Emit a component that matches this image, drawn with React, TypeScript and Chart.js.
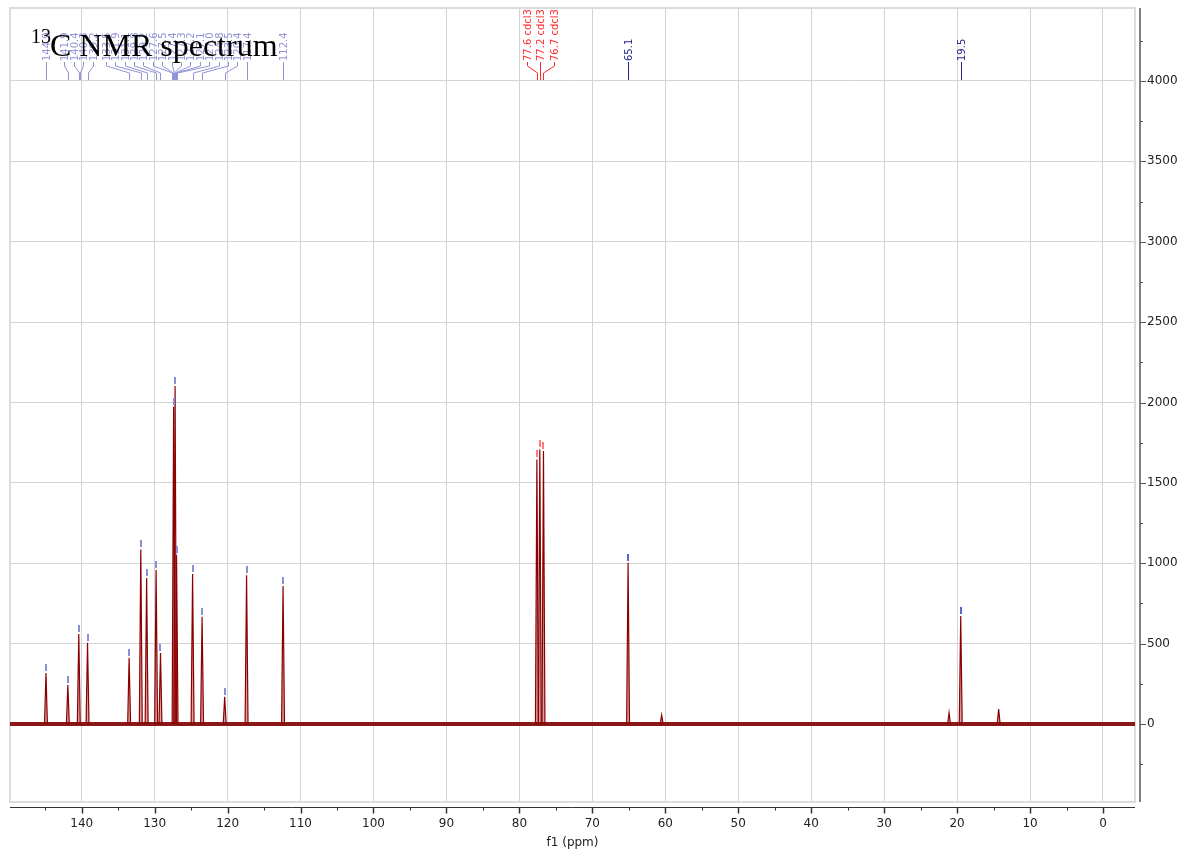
import React, { useEffect, useRef } from "react";
import { Chart, registerables } from "chart.js";

Chart.register(...registerables);

// ---- data ----
const aromaticPpm = [144.9, 141.9, 140.4, 139.2, 133.5, 131.9, 131.1, 129.8, 129.2, 127.4, 127.2, 127.0, 124.8, 123.5, 120.4, 117.4, 112.4];
const aromaticHeight = [317, 243, 560, 506, 412, 1086, 908, 958, 441, 1974, 2103, 1050, 933, 667, 170, 926, 858];
const solventPpm = [77.6, 77.2, 76.7];
const solventHeight = [1646, 1708, 1699];
const aliphaticPpm = [65.1, 19.5];
const aliphaticHeight = [1003, 672];
const impurityPpm = [60.5, 21.1, 14.3];
const impurityHeight = [56, 70, 93];
const blueLabelPpm = [144.9, 141.9, 140.4, 140.3, 139.2, 133.5, 131.9, 131.1, 129.8, 129.2, 127.6, 127.5, 127.4, 127.3, 127.2, 127.1, 127.0, 124.8, 123.5, 120.4, 117.4, 112.4];
const solventName = "cdcl3";
const xTickValues = [140, 130, 120, 110, 100, 90, 80, 70, 60, 50, 40, 30, 20, 10, 0];
const yTickValues = [0, 500, 1000, 1500, 2000, 2500, 3000, 3500, 4000];
const X_MIN = -4.39;
const X_MAX = 149.83;
const Y_MIN = -485;
const Y_MAX = 4454;

const HALF_WIDTH = 0.2;
const PEAK_LINE = "#8b0000";
const PEAK_FILL = "rgba(175,45,45,0.45)";
const GRID = "#d3d3d3";
const AXIS_FONT = '"DejaVu Sans", "Liberation Sans", sans-serif';

function peakDataset(p: number, h: number) {
  return {
    type: "line" as const,
    data: [
      { x: p + HALF_WIDTH, y: 0 },
      { x: p, y: h },
      { x: p - HALF_WIDTH, y: 0 },
    ],
    borderColor: PEAK_LINE,
    borderWidth: 1.2,
    backgroundColor: PEAK_FILL,
    fill: "origin",
    pointRadius: 0,
    tension: 0,
  };
}

function spread(targets: number[], gap: number): number[] {
  const order = targets.map((t, i) => i).sort((a, b) => targets[a] - targets[b]);
  let blocks = order.map((i) => ({ idx: [i], sum: targets[i], n: 1, start: targets[i] }));
  let changed = true;
  while (changed) {
    changed = false;
    for (let i = 0; i < blocks.length - 1; i++) {
      const a = blocks[i];
      const b = blocks[i + 1];
      const aEnd = a.start + (a.n - 1) * gap;
      if (b.start - aEnd < gap) {
        const n = a.n + b.n;
        const sum = a.sum + b.sum;
        const merged = { idx: [...a.idx, ...b.idx], sum, n, start: sum / n - ((n - 1) * gap) / 2 };
        blocks.splice(i, 2, merged);
        changed = true;
        break;
      }
    }
  }
  const out: number[] = new Array(targets.length);
  blocks.forEach((b) => b.idx.forEach((id, k) => (out[id] = b.start + k * gap)));
  return out;
}

const frameAxesPlugin = {
  id: "frameAxes",
  beforeDatasetsDraw(chart: any) {
    const { ctx, chartArea: a } = chart;
    ctx.save();
    ctx.strokeStyle = "#dcdcdc";
    ctx.lineWidth = 2;
    ctx.strokeRect(a.left, a.top, a.right - a.left, a.bottom - a.top);
    ctx.restore();
  },
  afterDraw(chart: any) {
    const { ctx, chartArea: a, scales } = chart;
    const xs = scales.x;
    const ys = scales.y;
    ctx.save();
    // x axis
    const ay = Math.round(a.bottom + 5) + 0.5;
    ctx.strokeStyle = "#333";
    ctx.lineWidth = 1;
    ctx.beginPath();
    ctx.moveTo(a.left, ay);
    ctx.lineTo(a.right, ay);
    ctx.stroke();
    for (let v = 0; v <= X_MAX; v += 5) {
      const px = Math.round(xs.getPixelForValue(v)) + 0.5;
      const major = v % 10 === 0;
      ctx.lineWidth = major ? 1.5 : 1;
      ctx.beginPath();
      ctx.moveTo(px, ay);
      ctx.lineTo(px, ay + (major ? 6 : 3));
      ctx.stroke();
    }
    // y axis
    const ax = Math.round(a.right + 5);
    ctx.strokeStyle = "#808080";
    ctx.lineWidth = 2;
    ctx.beginPath();
    ctx.moveTo(ax, a.top);
    ctx.lineTo(ax, a.bottom);
    ctx.stroke();
    ctx.lineWidth = 1;
    ctx.strokeStyle = "#555";
    for (let v = -250; v <= Y_MAX; v += 250) {
      const py = Math.round(ys.getPixelForValue(v)) + 0.5;
      const major = v % 500 === 0;
      ctx.beginPath();
      ctx.moveTo(ax, py);
      ctx.lineTo(ax + (major ? 6 : 3), py);
      ctx.stroke();
    }
    ctx.restore();
  },
};

function drawLabelSet(ctx: any, xs: any, ppm: number[], texts: string[], gap: number, color: string) {
  const targets = ppm.map((p) => xs.getPixelForValue(p));
  const pos = spread(targets, gap);
  const textEnd = 62;
  ctx.save();
  ctx.strokeStyle = color;
  ctx.fillStyle = color;
  ctx.lineWidth = 1;
  ctx.font = "10px " + AXIS_FONT;
  for (let i = 0; i < ppm.length; i++) {
    const lx = Math.round(pos[i]) + 0.5;
    const tx = Math.round(targets[i]) + 0.5;
    ctx.beginPath();
    ctx.moveTo(lx, textEnd);
    ctx.lineTo(lx, 66);
    ctx.lineTo(tx, 73);
    ctx.lineTo(tx, 80);
    ctx.stroke();
    ctx.save();
    ctx.translate(lx + 0.5, textEnd - 1);
    ctx.rotate(-Math.PI / 2);
    ctx.textAlign = "left";
    ctx.textBaseline = "middle";
    ctx.fillText(texts[i], 0, 0);
    ctx.restore();
  }
  ctx.restore();
}

function drawMarkers(ctx: any, xs: any, ys: any, ppm: number[], h: number[], color: string) {
  ctx.save();
  ctx.fillStyle = color;
  for (let i = 0; i < ppm.length; i++) {
    const px = Math.round(xs.getPixelForValue(ppm[i]));
    const py = Math.round(ys.getPixelForValue(h[i]));
    ctx.fillRect(px - 1, py - 9, 2, 7);
  }
  ctx.restore();
}

const annotationPlugin = {
  id: "nmrAnnotations",
  afterDatasetsDraw(chart: any) {
    const { ctx, scales } = chart;
    const xs = scales.x;
    const ys = scales.y;
    drawMarkers(ctx, xs, ys, aromaticPpm, aromaticHeight, "#8a90d8");
    drawMarkers(ctx, xs, ys, aliphaticPpm, aliphaticHeight, "#5c64d0");
    drawMarkers(ctx, xs, ys, solventPpm, solventHeight, "#ff7a7a");
    drawLabelSet(ctx, xs, blueLabelPpm, blueLabelPpm.map((v) => v.toFixed(1)), 9.4, "#9292d6");
    drawLabelSet(ctx, xs, aliphaticPpm, aliphaticPpm.map((v) => v.toFixed(1)), 9.4, "#26268c");
    drawLabelSet(ctx, xs, solventPpm, solventPpm.map((v) => v.toFixed(1) + " " + solventName), 13.5, "#ff2a2a");
  },
  afterDraw(chart: any) {
    const { ctx } = chart;
    ctx.save();
    ctx.fillStyle = "#000";
    ctx.textBaseline = "alphabetic";
    ctx.textAlign = "left";
    ctx.font = '20px "Liberation Serif", "DejaVu Serif", serif';
    ctx.fillText("13", 31, 43);
    ctx.font = '32px "Liberation Serif", "DejaVu Serif", serif';
    ctx.fillText("C NMR spectrum", 50, 56);
    ctx.restore();
  },
};

export default function App() {
  const ref = useRef<HTMLCanvasElement>(null);
  useEffect(() => {
    if (!ref.current) return;
    const datasets: any[] = [
      {
        type: "line",
        data: [
          { x: X_MAX, y: 0 },
          { x: X_MIN, y: 0 },
        ],
        borderColor: "rgba(128,0,0,0.9)",
        borderWidth: 4,
        pointRadius: 0,
        fill: false,
      },
    ];
    aromaticPpm.forEach((p, i) => datasets.push(peakDataset(p, aromaticHeight[i])));
    solventPpm.forEach((p, i) => datasets.push(peakDataset(p, solventHeight[i])));
    aliphaticPpm.forEach((p, i) => datasets.push(peakDataset(p, aliphaticHeight[i])));
    impurityPpm.forEach((p, i) => datasets.push(peakDataset(p, impurityHeight[i])));

    const tickFont = { family: AXIS_FONT, size: 12 };
    const chart = new Chart(ref.current, {
      type: "line",
      data: { datasets },
      options: {
        responsive: false,
        animation: false,
        devicePixelRatio: 1,
        layout: { padding: { left: 10, top: 8, right: 0, bottom: 0 } },
        plugins: { legend: { display: false }, tooltip: { enabled: false } },
        scales: {
          x: {
            type: "linear",
            reverse: true,
            min: X_MIN,
            max: X_MAX,
            afterBuildTicks: (s: any) => {
              s.ticks = xTickValues.map((v) => ({ value: v }));
            },
            afterFit: (s: any) => {
              s.height = 50;
              s.paddingLeft = 0;
              s.paddingRight = 0;
              s.paddingTop = 0;
              s.paddingBottom = 0;
            },
            grid: { color: GRID, lineWidth: 1, drawTicks: false },
            border: { display: false },
            ticks: {
              padding: 15,
              color: "#222",
              font: tickFont,
              maxRotation: 0,
              autoSkip: false,
              callback: (v: any) => String(v),
            },
            title: {
              display: true,
              text: "f1 (ppm)",
              color: "#222",
              font: tickFont,
              padding: { top: 0, bottom: 2 },
            },
          },
          y: {
            type: "linear",
            position: "right",
            min: Y_MIN,
            max: Y_MAX,
            afterBuildTicks: (s: any) => {
              s.ticks = yTickValues.map((v) => ({ value: v }));
            },
            afterFit: (s: any) => {
              s.width = 49;
              s.paddingLeft = 0;
              s.paddingRight = 0;
              s.paddingTop = 0;
              s.paddingBottom = 0;
            },
            grid: { color: GRID, lineWidth: 1, drawTicks: false },
            border: { display: false },
            ticks: {
              padding: 12,
              color: "#222",
              font: tickFont,
              autoSkip: false,
              callback: (v: any) => String(v),
            },
          },
        },
      } as any,
      plugins: [frameAxesPlugin, annotationPlugin],
    });
    return () => chart.destroy();
  }, []);

  return (
    <div style={{ position: "fixed", left: 0, top: 0, width: 1184, height: 852, background: "#fff" }}>
      <canvas ref={ref} width={1184} height={852} style={{ display: "block", width: 1184, height: 852 }} />
    </div>
  );
}
